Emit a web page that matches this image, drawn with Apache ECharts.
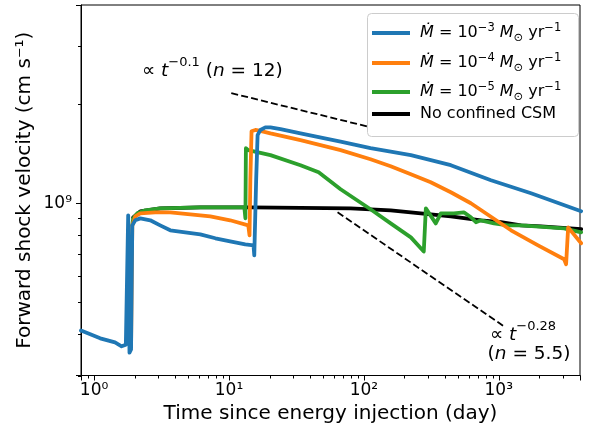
<!DOCTYPE html>
<html>
<head>
<meta charset="utf-8">
<title>Forward shock velocity</title>
<script src="https://cdn.jsdelivr.net/npm/echarts@6/dist/echarts.min.js"></script>
<style>
html, body { margin: 0; padding: 0; background: #fff; }
#main { width: 589px; height: 429px; }
</style>
</head>
<body>
<div id="main"></div>
<script>
// [time (day), forward shock velocity (cm/s)]
var mdot3 = [[0.80,4.11e8],[1.11,3.89e8],[1.43,3.78e8],[1.60,3.68e8],[1.72,3.72e8],[1.79,9.19e8],[1.83,3.52e8],
  [1.88,3.60e8],[1.92,8.57e8],[2.02,8.88e8],[2.20,9.00e8],[2.61,8.88e8],[3.09,8.57e8],[3.67,8.28e8],[4.74,8.16e8],
  [6.13,8.05e8],[7.93,7.83e8],[10.2,7.66e8],[13.2,7.50e8],[15.2,7.45e8],[15.4,6.95e8],[15.9,1.175e9],[16.3,1.61e9],
  [17.1,1.67e9],[18.6,1.70e9],[20.3,1.70e9],[24.1,1.68e9],[33.9,1.63e9],[67.2,1.54e9],[112,1.47e9],[223,1.40e9],
  [441,1.305e9],[875,1.175e9],[1734,1.073e9],[4080,9.46e8]];
var mdot4 = [[1.88,3.70e8],[1.92,8.57e8],[2.02,9.13e8],[2.20,9.32e8],[2.84,9.39e8],[3.67,9.39e8],[5.17,9.26e8],
  [7.27,9.13e8],[10.2,8.88e8],[13.9,8.57e8],[14.2,7.99e8],[14.4,1.175e9],[14.7,1.655e9],[15.7,1.67e9],[17.1,1.66e9],
  [20.3,1.63e9],[33.9,1.555e9],[67.2,1.45e9],[112,1.36e9],[158,1.296e9],[223,1.225e9],[313,1.158e9],[441,1.08e9],
  [621,1.0e9],[1232,8.28e8],[1955,7.45e8],[3051,6.76e8],[3155,6.53e8],[3268,8.45e8],[4080,7.56e8]];
var mdot5 = [[1.92,8.57e8],[1.95,9.0e8],[2.09,9.32e8],[2.39,9.52e8],[3.09,9.65e8],[6.13,9.72e8],[13.0,9.72e8],
  [13.24,9.0e8],[13.35,1.47e9],[13.9,1.45e9],[20.3,1.40e9],[33.9,1.305e9],[46.2,1.242e9],[67.2,1.103e9],[112,9.59e8],
  [158,8.69e8],[223,7.88e8],[278,7.14e8],[288,9.65e8],[341,8.69e8],[372,9.32e8],[465,9.32e8],[551,9.39e8],
  [621,9.07e8],[677,8.76e8],[738,8.88e8],[921,8.69e8],[1170,8.57e8],[1462,8.57e8],[3051,8.39e8],[4080,8.16e8]];
var noCsm = [[1.95,9.06e8],[2.20,9.45e8],[3.09,9.65e8],[6.13,9.72e8],[14.4,9.72e8],[33.9,9.69e8],[79.8,9.65e8],
  [158,9.52e8],[264,9.32e8],[441,9.13e8],[738,8.88e8],[1038,8.76e8],[1462,8.57e8],[2058,8.51e8],[4080,8.34e8]];

// power-law guide lines
var slopeN12 = [[10.4,2.16e9],[106.7,1.71e9]];
var slopeN55 = [[63.8,9.39e8],[1075,4.25e8]];

// annotation anchors
var annN12 = [7.53, 2.52e9];
var annN55a = [1513, 3.97e8];
var annN55b = [1676, 3.47e8];

var xMinor = [0.8,0.9,2,3,4,5,6,7,8,9,20,30,40,50,60,70,80,90,200,300,400,500,600,700,800,900,2000,3000,4000];
var yMinor = [3e8,4e8,5e8,6e8,7e8,8e8,9e8,2e9,3e9,4e9];
var xMin = 0.8, xMax = 4000, yMin = 3e8, yMax = 4e9;

var FONT = 'DejaVu Sans';
var SUP = {'0':'⁰','1':'¹','2':'²','3':'³','4':'⁴','5':'⁵','6':'⁶','7':'⁷','8':'⁸','9':'⁹','-':'⁻'};
function powLabel(v) {
  var e = Math.log10(v), r = Math.round(e);
  if (Math.abs(e - r) > 1e-6) return '';
  return '10' + String(r).split('').map(function (c) { return SUP[c]; }).join('');
}

var names = ['m3', 'm4', 'm5', 'none'];
var legendTop = [22, 52, 81, 103];
var legendText = {
  m3: '{g|}{i|Ṁ}{n| = 10}{s|−3}{i| M}{b|⊙}{n| yr}{s|−1}',
  m4: '{g|}{i|Ṁ}{n| = 10}{s|−4}{i| M}{b|⊙}{n| yr}{s|−1}',
  m5: '{g|}{i|Ṁ}{n| = 10}{s|−5}{i| M}{b|⊙}{n| yr}{s|−1}',
  none: '{g|}{n|No confined CSM}'
};
var legendRich = {
  g: {width: 5},
  n: {fontFamily: FONT, fontSize: 16, lineHeight: 22, color: '#000'},
  i: {fontFamily: FONT, fontSize: 16, lineHeight: 22, color: '#000', fontStyle: 'italic'},
  s: {fontFamily: FONT, fontSize: 11.5, lineHeight: 12, color: '#000', verticalAlign: 'top'},
  b: {fontFamily: FONT, fontSize: 11.5, lineHeight: 17, color: '#000', verticalAlign: 'bottom'}
};
var annRich = {
  a: {fontFamily: FONT, fontSize: 18.5, lineHeight: 30, color: '#000'},
  i: {fontFamily: FONT, fontSize: 18.5, lineHeight: 30, color: '#000', fontStyle: 'italic'},
  s: {fontFamily: FONT, fontSize: 13, lineHeight: 13, color: '#000', verticalAlign: 'top'}
};

function curve(name, data, color, z) {
  return {
    name: name, type: 'line', data: data, z: z,
    showSymbol: false, symbol: 'none', silent: true,
    lineStyle: {color: color, width: 3.8, join: 'round', cap: 'round'},
    itemStyle: {color: color}
  };
}
function guide(data) {
  return {
    type: 'line', data: data, z: 6, showSymbol: false, symbol: 'none', silent: true,
    lineStyle: {color: '#000', width: 1.8, type: [7, 3.2]}
  };
}
function legendRow(name, top) {
  return {
    data: [name], orient: 'vertical', left: 372, top: top, z: 11,
    icon: 'rect', itemWidth: 38, itemHeight: 4, padding: 0,
    selectedMode: false,
    formatter: function (n) { return legendText[n]; },
    textStyle: {fontFamily: FONT, fontSize: 16, color: '#000', lineHeight: 22, rich: legendRich}
  };
}
var axisFont = {fontFamily: FONT, fontSize: 17, color: '#000'};
var nameFont = {fontFamily: FONT, fontSize: 20, color: '#000'};
var legendFrame = {
  type: 'rect', id: 'frame', left: 367, top: 13, z: 10, silent: true,
  shape: {width: 211, height: 123, r: 4},
  style: {fill: 'rgba(255,255,255,0.8)', stroke: '#cccccc', lineWidth: 1}
};

var myChart = echarts.init(document.getElementById('main'));
var option = {
  animation: false,
  backgroundColor: '#fff',
  grid: {left: 81, right: 9, top: 5, bottom: 53.5, show: true, borderColor: '#000', borderWidth: 1,
    containLabel: false, outerBoundsMode: 'none'},
  legend: names.map(function (n, k) { return legendRow(n, legendTop[k]); }),
  graphic: [legendFrame],
  xAxis: {
    type: 'log', logBase: 10, min: xMin, max: xMax,
    name: 'Time since energy injection (day)', nameLocation: 'middle', nameGap: 28,
    nameMoveOverlap: false, nameTextStyle: nameFont,
    axisLine: {show: true, lineStyle: {color: '#000', width: 1}},
    axisTick: {show: true, length: 5, lineStyle: {color: '#000', width: 1}},
    splitLine: {show: false},
    axisLabel: Object.assign({formatter: powLabel, margin: 7}, axisFont)
  },
  yAxis: {
    type: 'log', logBase: 10, min: yMin, max: yMax,
    name: 'Forward shock velocity (cm s⁻¹)', nameLocation: 'middle', nameGap: 46,
    nameMoveOverlap: false, nameTextStyle: nameFont,
    axisLine: {show: true, lineStyle: {color: '#000', width: 1}},
    axisTick: {show: true, length: 5, lineStyle: {color: '#000', width: 1}},
    splitLine: {show: false},
    axisLabel: Object.assign({formatter: powLabel, margin: 9}, axisFont)
  },
  series: [
    curve('none', noCsm, '#000000', 2),
    curve('m5', mdot5, '#2ca02c', 3),
    curve('m4', mdot4, '#ff7f0e', 4),
    curve('m3', mdot3, '#1f77b4', 5),
    guide(slopeN12),
    guide(slopeN55),
    {
      type: 'scatter', symbolSize: 0, silent: true, z: 7,
      itemStyle: {opacity: 1},
      label: {show: true, position: 'inside', color: '#000', textBorderWidth: 0, rich: annRich},
      data: [
        {value: annN12, label: {formatter: '{a|∝ }{i|t}{s|−0.1}{a| (}{i|n}{a| = 12)}'}},
        {value: annN55a, label: {formatter: '{a|∝ }{i|t}{s|−0.28}'}},
        {value: annN55b, label: {formatter: '{a|(}{i|n}{a| = 5.5)}'}}
      ]
    }
  ]
};
myChart.setOption(option);

// minor ticks (2..9 x 10^k), placed through the axes' own scales
var xBase = myChart.convertToPixel({yAxisIndex: 0}, yMin);
var yBase = myChart.convertToPixel({xAxisIndex: 0}, xMin);
var minorEls = [];
xMinor.forEach(function (v) {
  var x = Math.round(myChart.convertToPixel({xAxisIndex: 0}, v)) + 0.5;
  minorEls.push({type: 'line', silent: true, z: 3,
    shape: {x1: x, y1: xBase, x2: x, y2: xBase + 3}, style: {stroke: '#000', lineWidth: 1}});
});
yMinor.forEach(function (v) {
  var y = Math.round(myChart.convertToPixel({yAxisIndex: 0}, v)) + 0.5;
  minorEls.push({type: 'line', silent: true, z: 3,
    shape: {x1: yBase - 3, y1: y, x2: yBase, y2: y}, style: {stroke: '#000', lineWidth: 1}});
});
myChart.setOption({graphic: [legendFrame].concat(minorEls)});
</script>
</body>
</html>
